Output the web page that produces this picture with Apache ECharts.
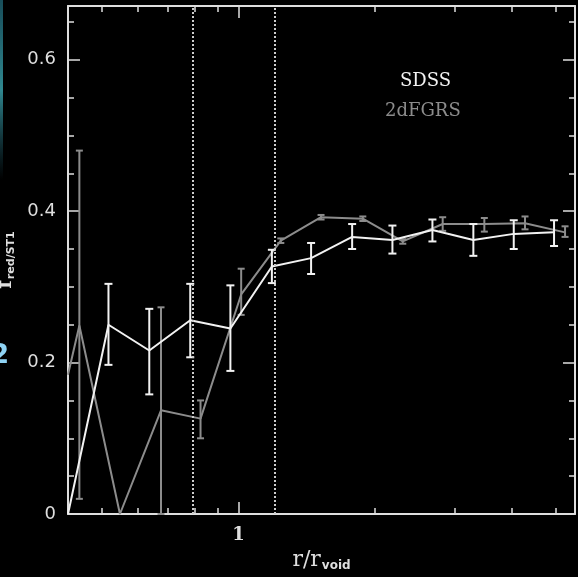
<!DOCTYPE html>
<html>
<head>
<meta charset="utf-8">
<script src="https://cdn.jsdelivr.net/npm/echarts@6/dist/echarts.min.js"></script>
<style>
  html, body { margin: 0; background: #000; }
  #chart { width: 578px; height: 577px; }
</style>
</head>
<body>
<div id="chart"></div>
<script>
// values: r / r_void against f_red/ST1
const sdssR = [0.421, 0.517, 0.636, 0.783, 0.960, 1.185, 1.446, 1.781, 2.185, 2.677, 3.295, 4.045, 4.963]
const sdssF = [0, 0.250, 0.216, 0.256, 0.245, 0.327, 0.338, 0.366, 0.362, 0.375, 0.362, 0.370, 0.372]
const sdssLo = [null, 0.197, 0.158, 0.207, 0.189, 0.305, 0.317, 0.350, 0.344, 0.360, 0.341, 0.350, 0.354]
const sdssHi = [null, 0.304, 0.271, 0.304, 0.302, 0.349, 0.358, 0.383, 0.381, 0.389, 0.383, 0.388, 0.388]

const tdfR = [0.421, 0.446, 0.548, 0.675, 0.825, 1.014, 1.240, 1.521, 1.880, 2.303, 2.820, 3.484, 4.283, 5.248]
const tdfF = [0.184, 0.249, 0, 0.137, 0.126, 0.290, 0.361, 0.392, 0.390, 0.360, 0.383, 0.383, 0.384, 0.372]
const tdfLo = [null, 0.020, null, 0, 0.100, 0.263, 0.358, 0.389, 0.387, 0.357, 0.374, 0.373, 0.376, 0.366]
const tdfHi = [null, 0.480, null, 0.273, 0.150, 0.324, 0.364, 0.395, 0.393, 0.363, 0.392, 0.391, 0.393, 0.380]

// axis ranges and ticks
const xMin = 0.421
const xMax = 5.52
const xMinorTicks = [0.5, 0.6, 0.7, 0.8, 0.9, 2, 3, 4, 5]
const xMajorTicks = [1]
const yMax = 0.671
const yMajorTicks = [0, 0.2, 0.4, 0.6]
const yMinorTicks = [0.05, 0.1, 0.15, 0.25, 0.3, 0.35, 0.45, 0.5, 0.55, 0.65]
const dottedR = [0.8, 1.2]

const lg = v => Math.log10( v )
const chart = echarts.init( document.getElementById( 'chart' ) )

const frame = '#dedede'
const white = '#f2f2f2'
const grey = '#8c8c8c'

const xAxisBase = ( position, ticks, len, showLine, labels ) => ( {
  type : 'value',
  position,
  min : lg( xMin ),
  max : lg( xMax ),
  splitLine : { show : false },
  axisLine : { show : showLine, onZero : false, lineStyle : { color : frame, width : 2 } },
  axisTick : { show : true, inside : true, length : len, customValues : ticks.map( lg ), lineStyle : { color : frame, width : 1.5 } },
  axisLabel : labels ? {
    show : true,
    customValues : [0],
    formatter : v => String( Math.round( Math.pow( 10, v ) ) ),
    color : frame,
    fontFamily : 'DejaVu Serif',
    fontWeight : 'bold',
    fontSize : 18,
    margin : 12
  } : { show : false }
} )

const yAxisBase = ( position, ticks, len, showLine, labels ) => ( {
  type : 'value',
  position,
  min : 0,
  max : yMax,
  splitLine : { show : false },
  axisLine : { show : showLine, onZero : false, lineStyle : { color : frame, width : 2 } },
  axisTick : { show : true, inside : true, length : len, customValues : ticks, lineStyle : { color : frame, width : 1.5 } },
  axisLabel : labels ? {
    show : true,
    customValues : yMajorTicks,
    formatter : v => v === 0 ? '0' : v.toFixed( 1 ),
    color : frame,
    fontFamily : 'DejaVu Sans',
    fontSize : 18,
    margin : 12
  } : { show : false }
} )

const errorBars = ( rs, lo, hi, color, cap ) => ( {
  type : 'custom',
  silent : true,
  z : color === white ? 4 : 2,
  encode : { x : 0, y : [1, 2] },
  data : rs.map( ( r, i ) => [lg( r ), lo[i], hi[i]] ).filter( d => d[1] !== null ),
  renderItem : ( params, api ) => {
    const top = api.coord( [api.value( 0 ), api.value( 2 )] )
    const bot = api.coord( [api.value( 0 ), api.value( 1 )] )
    const style = { stroke : color, lineWidth : 2 }
    return {
      type : 'group',
      children : [
        { type : 'line', shape : { x1 : top[0], y1 : top[1], x2 : bot[0], y2 : bot[1] }, style },
        { type : 'line', shape : { x1 : top[0] - cap, y1 : top[1], x2 : top[0] + cap, y2 : top[1] }, style },
        { type : 'line', shape : { x1 : bot[0] - cap, y1 : bot[1], x2 : bot[0] + cap, y2 : bot[1] }, style }
      ]
    }
  }
} )

const xAxes = [
  xAxisBase( 'bottom', xMinorTicks, 6, true, true ),
  xAxisBase( 'bottom', xMajorTicks, 12, false, false ),
  xAxisBase( 'top', xMinorTicks, 6, true, false ),
  xAxisBase( 'top', xMajorTicks, 12, false, false )
]
xAxes[0].name = '{a|r/r}{b|void}'
xAxes[0].nameLocation = 'middle'
xAxes[0].nameGap = 34
xAxes[0].nameTextStyle = {
  rich : {
    a : { fontFamily : 'DejaVu Serif', fontSize : 22, color : frame },
    b : { fontFamily : 'DejaVu Sans', fontWeight : 'bold', fontSize : 12, color : frame, padding : [12, 0, 0, 1] }
  }
}

const yAxes = [
  yAxisBase( 'left', yMajorTicks, 12, true, true ),
  yAxisBase( 'left', yMinorTicks, 6, false, false ),
  yAxisBase( 'right', yMajorTicks, 12, true, false ),
  yAxisBase( 'right', yMinorTicks, 6, false, false )
]
yAxes[0].name = '{a|f}{b|red/ST1}'
yAxes[0].nameLocation = 'middle'
yAxes[0].nameRotate = 90
yAxes[0].nameGap = 42
yAxes[0].nameTextStyle = {
  rich : {
    a : { fontFamily : 'DejaVu Serif', fontWeight : 'bold', fontSize : 20, color : frame },
    b : { fontFamily : 'DejaVu Sans', fontWeight : 'bold', fontSize : 11, color : frame, padding : [10, 0, 0, 1] }
  }
}

chart.setOption( {
  backgroundColor : '#000',
  animation : false,
  grid : { left : 68, right : 3, top : 6, bottom : 63, outerBoundsMode : 'none' },
  xAxis : xAxes,
  yAxis : yAxes,
  graphic : [
    {
      type : 'rect',
      shape : { x : 0, y : 0, width : 3, height : 180 },
      style : {
        fill : new echarts.graphic.LinearGradient( 0, 0, 0, 1, [
          { offset : 0, color : 'rgba(40, 130, 150, 0.6)' },
          { offset : 0.5, color : 'rgba(60, 170, 180, 0.8)' },
          { offset : 1, color : 'rgba(40, 120, 140, 0)' }
        ] )
      }
    },
    {
      type : 'text',
      left : -9,
      top : 343,
      style : { text : '2', fill : '#8fd3f4', font : '900 26px "DejaVu Sans"' }
    },
    {
      type : 'text',
      left : 400,
      top : 72,
      style : { text : 'SDSS', fill : white, font : '18px "DejaVu Serif"' }
    },
    {
      type : 'text',
      left : 385,
      top : 102,
      style : { text : '2dFGRS', fill : grey, font : '18px "DejaVu Serif"' }
    }
  ],
  series : [
    {
      type : 'line',
      name : '2dFGRS',
      z : 2,
      showSymbol : false,
      lineStyle : { color : grey, width : 2 },
      data : tdfR.map( ( r, i ) => [lg( r ), tdfF[i]] ),
      markLine : {
        silent : true,
        symbol : 'none',
        label : { show : false },
        lineStyle : { color : '#cccccc', width : 2, type : [2, 2] },
        data : dottedR.map( r => ( { xAxis : lg( r ) } ) )
      }
    },
    errorBars( tdfR, tdfLo, tdfHi, grey, 3.5 ),
    {
      type : 'line',
      name : 'SDSS',
      z : 4,
      showSymbol : false,
      lineStyle : { color : white, width : 2 },
      data : sdssR.map( ( r, i ) => [lg( r ), sdssF[i]] )
    },
    errorBars( sdssR, sdssLo, sdssHi, white, 4 )
  ]
} )
</script>
</body>
</html>
